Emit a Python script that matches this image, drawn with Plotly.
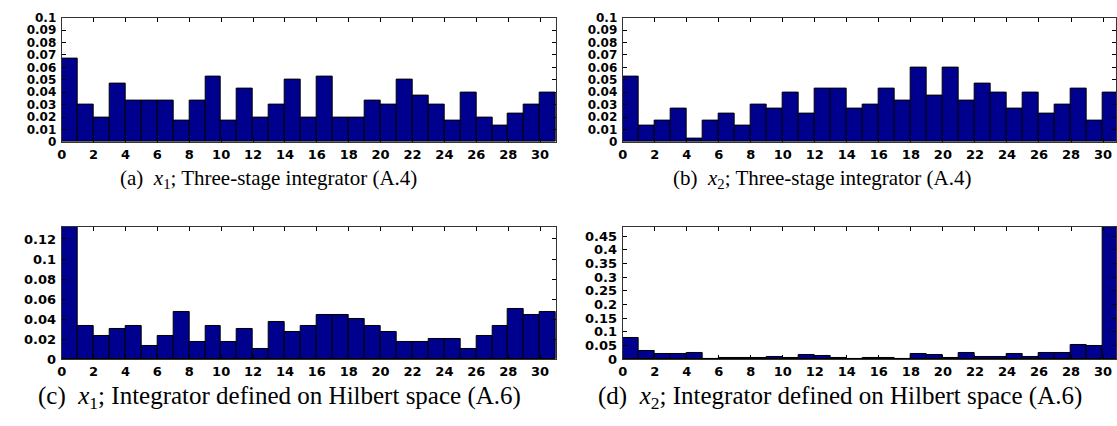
import plotly.graph_objects as go

bins = list(range(31))
xticks = list(range(0, 31, 2))

a_x1_three_stage = [0.067, 0.030, 0.020, 0.047, 0.033, 0.033, 0.033, 0.017, 0.033, 0.053,
                    0.017, 0.043, 0.020, 0.030, 0.050, 0.020, 0.053, 0.020, 0.020, 0.033,
                    0.030, 0.050, 0.037, 0.030, 0.017, 0.040, 0.020, 0.013, 0.023, 0.030,
                    0.040]
b_x2_three_stage = [0.053, 0.013, 0.017, 0.027, 0.003, 0.017, 0.023, 0.013, 0.030, 0.027,
                    0.040, 0.023, 0.043, 0.043, 0.027, 0.030, 0.043, 0.033, 0.060, 0.037,
                    0.060, 0.033, 0.047, 0.040, 0.027, 0.040, 0.023, 0.030, 0.043, 0.017,
                    0.040]
c_x1_hilbert = [0.132, 0.033, 0.023, 0.030, 0.033, 0.013, 0.023, 0.047, 0.017, 0.033,
                0.017, 0.030, 0.010, 0.037, 0.027, 0.033, 0.044, 0.044, 0.040, 0.033,
                0.027, 0.017, 0.017, 0.020, 0.020, 0.010, 0.023, 0.033, 0.050, 0.044,
                0.047]
d_x2_hilbert = [0.079, 0.029, 0.019, 0.019, 0.022, 0.0, 0.006, 0.005, 0.005, 0.008,
                0.005, 0.015, 0.012, 0.006, 0.0, 0.006, 0.004, 0.0, 0.020, 0.015,
                0.006, 0.022, 0.008, 0.008, 0.019, 0.008, 0.022, 0.022, 0.052, 0.048,
                0.483]

ab_yticks = [0, 0.01, 0.02, 0.03, 0.04, 0.05, 0.06, 0.07, 0.08, 0.09, 0.1]
ab_ylabels = ["0", "0.01", "0.02", "0.03", "0.04", "0.05", "0.06", "0.07", "0.08", "0.09", "0.1"]
c_yticks = [0, 0.02, 0.04, 0.06, 0.08, 0.1, 0.12]
c_ylabels = ["0", "0.02", "0.04", "0.06", "0.08", "0.1", "0.12"]
d_yticks = [0, 0.05, 0.1, 0.15, 0.2, 0.25, 0.3, 0.35, 0.4, 0.45]
d_ylabels = ["0", "0.05", "0.1", "0.15", "0.2", "0.25", "0.3", "0.35", "0.4", "0.45"]

captions = [
    "(a)  <i>x</i><sub>1</sub>; Three-stage integrator (A.4)",
    "(b)  <i>x</i><sub>2</sub>; Three-stage integrator (A.4)",
    "(c)  <i>x</i><sub>1</sub>; Integrator defined on Hilbert space (A.6)",
    "(d)  <i>x</i><sub>2</sub>; Integrator defined on Hilbert space (A.6)",
]

W, H = 1117, 426
panels = [
    dict(data=a_x1_three_stage, x0=57, x1=554, y0=11, y1=140, xr=31, ymax=0.1,
         yt=ab_yticks, yl=ab_ylabels, yfs=12),
    dict(data=b_x2_three_stage, x0=621, x1=1117, y0=11, y1=140, xr=30.81, ymax=0.1,
         yt=ab_yticks, yl=ab_ylabels, yfs=12),
    dict(data=c_x1_hilbert, x0=57, x1=554, y0=228, y1=365, xr=31, ymax=0.132,
         yt=c_yticks, yl=c_ylabels, yfs=13),
    dict(data=d_x2_hilbert, x0=621, x1=1117, y0=228, y1=365, xr=30.81, ymax=0.483,
         yt=d_yticks, yl=d_ylabels, yfs=13),
]

fig = go.Figure()
layout = {}
for i, p in enumerate(panels):
    n = "" if i == 0 else str(i + 1)
    fig.add_trace(go.Bar(
        x=[b + 0.5 for b in bins], y=p["data"], width=1,
        marker=dict(color="#00008F", line=dict(color="black", width=1)),
        xaxis="x" + n, yaxis="y" + n, showlegend=False,
    ))
    layout["xaxis" + n] = dict(
        domain=[p["x0"] / W, p["x1"] / W], range=[0, p["xr"]],
        anchor="y" + n, tickvals=xticks, ticktext=[str(t) for t in xticks],
        ticks="inside", ticklen=4, tickcolor="black", showline=True, linecolor="#333",
        mirror="ticks", showgrid=False, zeroline=False, ticklabelstandoff=0,
        tickfont=dict(family="DejaVu Sans", size=13, color="black", weight="bold"),
    )
    layout["yaxis" + n] = dict(
        domain=[1 - p["y1"] / H, 1 - p["y0"] / H], range=[0, p["ymax"]],
        anchor="x" + n, tickvals=p["yt"], ticktext=p["yl"],
        ticks="inside", ticklen=4, tickcolor="black", showline=True, linecolor="#333",
        mirror="ticks", showgrid=False, zeroline=False, ticklabelstandoff=2,
        tickfont=dict(family="DejaVu Sans", size=p["yfs"], color="black", weight="bold"),
    )

fig.update_layout(
    width=W, height=H, margin=dict(l=0, r=0, t=0, b=0),
    plot_bgcolor="white", paper_bgcolor="white", bargap=0, **layout,
)

cap_pos = [(265, 178, 21), (822, 178, 21), (276, 405, 25), (840, 405, 25)]
for text, (cx, cy, fs) in zip(captions, cap_pos):
    fig.add_annotation(
        x=cx / W, y=1 - cy / H, xref="paper", yref="paper", text=text, showarrow=False,
        xanchor="center", yanchor="middle",
        font=dict(family="Liberation Serif", size=fs, color="black"),
    )

fig.write_html("out.html")
